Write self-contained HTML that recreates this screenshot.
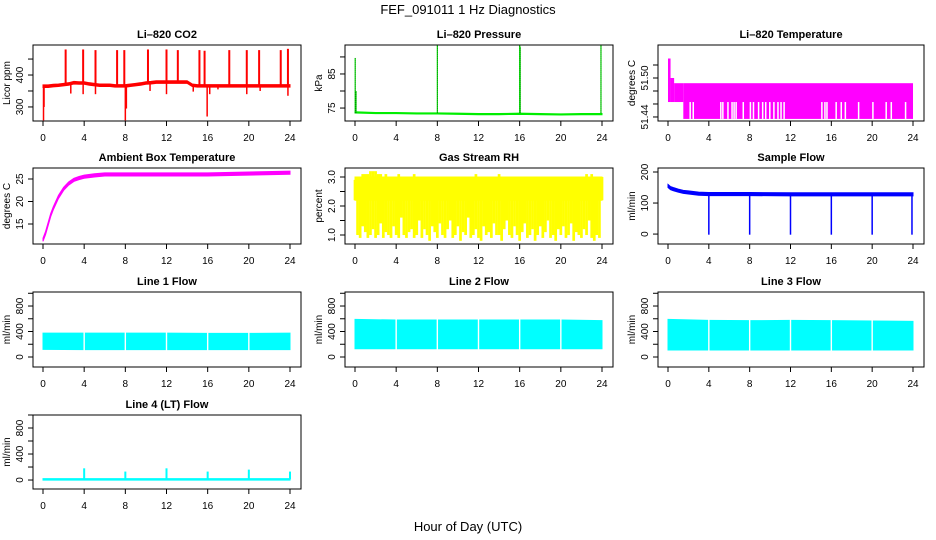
<!DOCTYPE html>
<html><head><meta charset="utf-8"><style>
body{margin:0;background:#fff}
svg{display:block;font-family:"Liberation Sans",Arial,sans-serif}
</style></head><body>
<svg id="s" width="936" height="540" viewBox="0 0 936 540">
<text x="468" y="14" text-anchor="middle" font-size="13">FEF_091011  1 Hz Diagnostics</text>
<text x="468" y="531" text-anchor="middle" font-size="13">Hour of Day (UTC)</text>
</svg>
<script>
// ---- data arrays ----
const hourTicks=[0,4,8,12,16,20,24];
const halfHours=[];for(let i=0;i<=48;i++)halfHours.push(i/2);
const quarterHours=[];for(let i=0;i<=96;i++)quarterHours.push(i/4);
const co2Base=[365,365,367,368,370,372,376,375,375,372,370,368,368,368,366,366,366,368,370,372,375,376,378,378,378,378,378,378,378,368,366,366,366,366,366,366,366,366,366,366,366,366,366,366,366,366,366,366,366];
const co2SpikeT=[2.2,3.9,5.1,7.2,7.9,10.2,12.0,13.1,15.2,15.7,18.1,19.8,21.0,23.1,23.8];
const co2SpikeV=[480,480,478,478,478,480,480,478,478,476,478,478,478,478,482];
const co2DipT=[0.05,0.1,8.0,8.1,15.95,3.9,5.1,12,16.2,17,19.8,23.8,2.7,10.4,14.6,21.1];
const co2DipV=[258,300,258,295,270,340,340,340,340,355,340,335,342,350,348,350];
const pressHours=[0,2,4,6,8,10,12,14,16,18,20,22,24];
const pressBase=[73.8,73.6,73.6,73.5,73.5,73.4,73.3,73.3,73.4,73.3,73.2,73.3,73.3];
const pressSpikeT=[0.02,0.1,8.0,16.0,16.05,23.9];
const pressSpikeV=[89.7,80,95,94,93,94];
const ltStepT=[0,0.25,0.6,1.5];
const ltStepHi=[51.53,51.50,51.492,51.492];
const ltStepLo=[51.463,51.463,51.463,51.437];
const ltGapT=[2.1,2.4,5.1,5.3,5.8,6.2,6.4,6.6,7.3,8.0,8.3,8.8,9.2,9.5,9.9,10.3,10.7,11.0,11.3,15.0,15.3,15.5,16.4,16.9,17.3,18.6,20.0,21.3,21.8,23.2];
const ambHours=[0,0.25,0.5,0.75,1,1.5,2,2.5,3,3.5,4,5,6,8,12,16,20,24];
const ambTemp=[11.5,13,15,17,18.5,21,22.8,24,24.8,25.2,25.5,25.8,26,26,26,26,26.2,26.4];
const rhLo=[2.2,1.0,0.9,1.3,1.1,0.9,1.0,1.2,0.9,1.0,1.4,0.9,1.1,1.0,0.9,1.3,1.0,0.9,1.6,1.0,0.9,1.1,1.2,0.9,1.0,1.5,0.9,1.2,1.0,0.8,1.3,1.1,0.9,1.4,1.0,0.9,1.2,1.5,0.9,1.0,1.3,0.8,1.1,1.0,1.6,0.9,1.0,1.2,0.9,0.8,1.3,1.0,1.1,0.9,1.4,1.0,1.0,0.8,1.2,1.5,1.0,0.9,1.3,1.0,0.8,1.1,1.4,0.9,1.0,1.2,0.8,1.0,1.3,0.9,1.1,1.5,0.9,1.0,0.8,1.2,1.0,1.3,0.9,1.0,1.4,0.8,1.1,1.0,0.9,1.2,1.0,1.5,0.9,0.8,1.0,0.9,2.2];
const rhHi=[2.9,2.9,3.0,3.1,3.1,3.1,3.2,3.2,3.2,3.1,3.1,3.0,3.1,3.0,3.0,3.0,3.0,3.1,3.0,3.0,3.0,3.0,3.0,3.1,3.0,3.0,3.0,3.0,3.0,3.0,3.0,3.0,3.0,3.0,3.0,3.0,3.0,3.0,3.0,3.0,3.0,3.0,3.0,3.0,3.0,3.0,3.0,3.1,3.0,3.0,3.0,3.0,3.0,3.0,3.0,3.0,3.1,3.0,3.0,3.0,3.0,3.0,3.0,3.0,3.0,3.0,3.0,3.0,3.0,3.0,3.0,3.0,3.0,3.0,3.0,3.0,3.0,3.0,3.0,3.0,3.0,3.0,3.0,3.0,3.0,3.0,3.0,3.0,3.0,3.0,3.1,3.0,3.1,3.0,3.0,3.0,3.0];
const sfHours=[0,0.25,0.5,1,1.5,2,2.5,3,4,8,12,16,20,24];
const sfFlow=[155,148,145,140,136,134,132,130,129,129,128,128,128,128];
const sfDipT=[4,8,12,16,20,23.9];
const sfDipV=[-2,-2,-2,-2,-2,-2];
const gapHours=[4,8,12,16,20];
const line1Lo=[120,115,115,115,115,115,115];
const line1Hi=[375,375,375,375,370,370,375];
const line2Lo=[130,130,130,130,130,130,130];
const line2Hi=[590,580,580,580,580,580,570];
const line3Lo=[110,110,110,110,110,110,110];
const line3Hi=[590,575,570,575,570,565,560];
const line4Base=10;
const line4SpikeT=[4,8,12,16,20,24];
const line4SpikeV=[180,130,180,130,160,130];

// ---- layout ----
const NS="http://www.w3.org/2000/svg";
const svg=document.getElementById('s');
const cols=[[33,301],[345,613],[658,924]];
const rows=[[45,121],[168,244],[292,367],[415,489]];
function mk(tag,attrs,parent){const e=document.createElementNS(NS,tag);for(const k in attrs)e.setAttribute(k,attrs[k]);(parent||svg).appendChild(e);return e;}
function panel(c,r,title,ylab,ylim,yticks,ylabels,name){
  const [L,R]=cols[c],[T,B]=rows[r];
  const g=mk('g',{});
  
  
  const x=h=>L+10+(h/24)*(R-L-21);
  const y=v=>B-(v-ylim[0])/(ylim[1]-ylim[0])*(B-T);
  const plot=mk('g',{'clip-path':'url(#clip'+name+')'},g);
  const cp=mk('clipPath',{id:'clip'+name},g);mk('rect',{x:L,y:T,width:R-L,height:B-T},cp);
  const t=mk('text',{x:(L+R)/2,y:T-7,'text-anchor':'middle','font-size':11,'font-weight':'bold'},g);t.textContent=title;
  
  
  const bx=mk('rect',{x:L,y:T,width:R-L,height:B-T,fill:'none',stroke:'#000','stroke-width':1},g);
  
  
  mk('line',{x1:x(0),x2:x(24),y1:B,y2:B,stroke:'#000'},g);
  hourTicks.forEach(h=>{mk('line',{x1:x(h),x2:x(h),y1:B,y2:B+5,stroke:'#000'},g);
    const tl=mk('text',{x:x(h),y:B+20,'text-anchor':'middle','font-size':10},g);tl.textContent=h;
    
    });
  mk('line',{x1:L,x2:L,y1:y(yticks[0]),y2:y(yticks[yticks.length-1]),stroke:'#000'},g);
  yticks.forEach(v=>mk('line',{x1:L-5,x2:L,y1:y(v),y2:y(v),stroke:'#000'},g));
  ylabels.forEach(v=>{const tl=mk('text',{x:0,y:0,'text-anchor':'middle','font-size':10,transform:`translate(${L-10},${y(v)}) rotate(-90)`},g);tl.textContent=v;
    
    });
  const yl=mk('text',{x:0,y:0,'text-anchor':'middle','font-size':10,transform:`translate(${L-23},${(T+B)/2}) rotate(-90)`},g);yl.textContent=ylab;
  
  
  return {x,y,g:plot};
}
function vline(p,h,a,b,col,w,nm){const l=mk('line',{x1:p.x(h),x2:p.x(h),y1:p.y(a),y2:p.y(b),stroke:col,'stroke-width':w||1.5},p.g);
  
  return l;}
function band(p,hs,lo,hi,col,nm){let d='M'+hs.map((h,i)=>p.x(h)+','+p.y(hi[i])).join('L');
  for(let i=hs.length-1;i>=0;i--)d+='L'+p.x(hs[i])+','+p.y(lo[i]);
  const e=mk('path',{d:d+'Z',fill:col,stroke:col,'stroke-width':1},p.g);
  
  return e;}

// CO2
let p=panel(0,0,'Li\u2013820 CO2','Licor ppm',[256,494],[300,350,400,450],[300,400],'co2');
band(p,halfHours,co2Base.map(v=>v-4),co2Base.map(v=>v+4),'#ff0000','co2-series');
co2SpikeT.forEach((h,i)=>vline(p,h,co2Base[Math.round(h*2)],co2SpikeV[i],'#ff0000',2,'co2-spike'));
co2DipT.forEach((h,i)=>vline(p,h,co2Base[Math.round(h*2)],co2DipV[i],'#ff0000',1.5,'co2-dip'));
// Pressure
p=panel(1,0,'Li\u2013820 Pressure','kPa',[71.2,93.5],[75,80,85,90],[75,85],'pressure');
band(p,pressHours,pressBase.map(v=>v-0.25),pressBase.map(v=>v+0.1),'#00ee00','pressure-series');
pressSpikeT.forEach((h,i)=>{vline(p,h,73.5,pressSpikeV[i],'#00dd00',1.2,'pressure-spike');vline(p,h,73.5,pressSpikeV[i],'#006600',0.6,'pressure-spike-core').setAttribute('stroke-dasharray','1,1');});
// Li temp
p=panel(2,0,'Li\u2013820 Temperature','degrees C',[51.4338,51.5508],[51.44,51.46,51.48,51.50,51.52],['51.44','51.50'],'li-temp');
ltStepT.forEach((h,i)=>{const h2=i<ltStepT.length-1?ltStepT[i+1]:24;
  const r=mk('rect',{x:p.x(h),y:p.y(ltStepHi[i]),width:p.x(h2)-p.x(h),height:p.y(ltStepLo[i])-p.y(ltStepHi[i]),fill:'#ff00ff'},p.g);
  
  });
ltGapT.forEach(h=>{const r=mk('rect',{x:p.x(h),y:p.y(51.463),width:1.5,height:p.y(51.437)-p.y(51.463),fill:'#fff'},p.g);
  
  });
// Ambient
p=panel(0,1,'Ambient Box Temperature','degrees C',[10.56,27.44],[15,20,25],[15,20,25],'ambient');
band(p,ambHours,ambTemp.map(v=>v-0.35),ambTemp.map(v=>v+0.35),'#ff00ff','ambient-series');
// RH
p=panel(1,1,'Gas Stream RH','percent',[0.69,3.31],[1.0,1.5,2.0,2.5,3.0],['1.0','2.0','3.0'],'rh');
band(p,[0,24],[2.2,2.2],[3.0,3.0],'#ffff00','rh-core');
quarterHours.forEach((h,i)=>{const w=(p.x(0.25)-p.x(0))*1.05;
  const r=mk('rect',{x:p.x(h)-w/2,y:p.y(rhHi[i]),width:w,height:p.y(rhLo[i])-p.y(rhHi[i]),fill:'#ffff00'},p.g);
  
  });
// Sample flow
p=panel(2,1,'Sample Flow','ml/min',[-32,212.9],[0,100,200],[0,100,200],'sample-flow');
band(p,sfHours,sfFlow.map(v=>v-5),sfFlow.map(v=>v+5),'#0000ff','sample-flow-series');
sfDipT.forEach((h,i)=>vline(p,h,125,sfDipV[i],'#0000ff',1.5,'sample-flow-dip'));
// Line flows
function lineFlow(c,r,title,lo,hi,name){const pp=panel(c,r,title,'ml/min',r==3?[-138,1000]:[-157,1020],[0,200,400,600,800,1000],[0,400,800],name);
  band(pp,hourTicks,lo,hi,'#00ffff',name+'-series');
  gapHours.forEach(h=>{const rr=mk('rect',{x:pp.x(h)-0.7,y:pp.y(1000),width:1.4,height:pp.y(-200)-pp.y(1000),fill:'#fff'},pp.g);
    
    });
  return pp;}
lineFlow(0,2,'Line 1 Flow',line1Lo,line1Hi,'line1-flow');
lineFlow(1,2,'Line 2 Flow',line2Lo,line2Hi,'line2-flow');
lineFlow(2,2,'Line 3 Flow',line3Lo,line3Hi,'line3-flow');
p=panel(0,3,'Line 4 (LT) Flow','ml/min',[-138,1000],[0,200,400,600,800,1000],[0,400,800],'line4-flow');
band(p,[0,24],[line4Base-12,line4Base-12],[line4Base+12,line4Base+12],'#00ffff','line4-series');
line4SpikeT.forEach((h,i)=>vline(p,h,line4Base,line4SpikeV[i],'#00ffff',2,'line4-spike'));
</script>
</body></html>
